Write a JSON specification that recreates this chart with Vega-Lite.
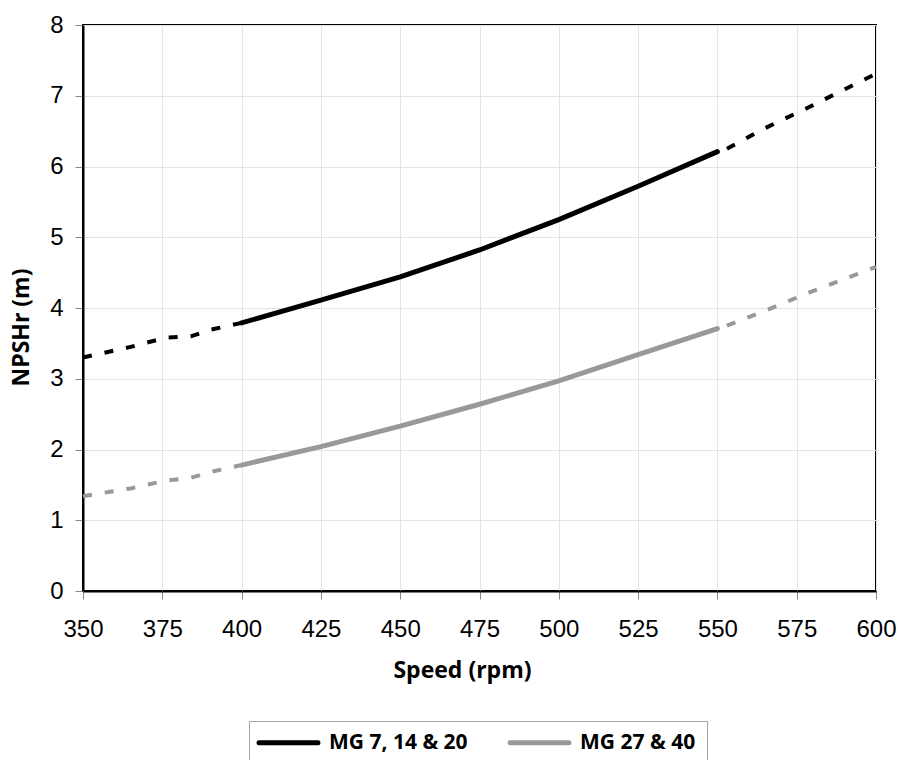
{
  "$schema": "https://vega.github.io/schema/vega-lite/v6.json",
  "width": 793,
  "height": 566,
  "autosize": {"type": "none"},
  "padding": {"left": 83, "top": 25, "right": 23, "bottom": 169},
  "background": "white",
  "config": {
    "view": {"stroke": "#000000", "strokeWidth": 2},
    "axis": {
      "labelFont": "Liberation Sans",
      "labelFontSize": 24,
      "labelColor": "#000000",
      "titleFont": "Open Sans",
      "titleFontWeight": "bold",
      "titleFontSize": 23,
      "titleColor": "#000000",
      "domainColor": "#000000",
      "domainWidth": 2,
      "tickColor": "#888888",
      "tickSize": 8,
      "tickWidth": 1,
      "gridColor": "#e4e4e4",
      "gridWidth": 1
    }
  },
  "data": {
    "values": [
      {"series": "MG 7, 14 & 20", "seg": "low", "style": "dashed", "rpm": 350, "npsh": 3.30},
      {"series": "MG 7, 14 & 20", "seg": "low", "style": "dashed", "rpm": 365, "npsh": 3.45},
      {"series": "MG 7, 14 & 20", "seg": "low", "style": "dashed", "rpm": 376, "npsh": 3.58},
      {"series": "MG 7, 14 & 20", "seg": "low", "style": "dashed", "rpm": 384, "npsh": 3.60},
      {"series": "MG 7, 14 & 20", "seg": "low", "style": "dashed", "rpm": 390, "npsh": 3.69},
      {"series": "MG 7, 14 & 20", "seg": "low", "style": "dashed", "rpm": 400, "npsh": 3.79},
      {"series": "MG 7, 14 & 20", "seg": "fit", "style": "solid", "rpm": 400, "npsh": 3.79},
      {"series": "MG 7, 14 & 20", "seg": "fit", "style": "solid", "rpm": 425, "npsh": 4.11},
      {"series": "MG 7, 14 & 20", "seg": "fit", "style": "solid", "rpm": 450, "npsh": 4.44},
      {"series": "MG 7, 14 & 20", "seg": "fit", "style": "solid", "rpm": 475, "npsh": 4.82},
      {"series": "MG 7, 14 & 20", "seg": "fit", "style": "solid", "rpm": 500, "npsh": 5.25},
      {"series": "MG 7, 14 & 20", "seg": "fit", "style": "solid", "rpm": 525, "npsh": 5.72},
      {"series": "MG 7, 14 & 20", "seg": "fit", "style": "solid", "rpm": 550, "npsh": 6.21},
      {"series": "MG 7, 14 & 20", "seg": "high", "style": "dashed", "rpm": 553, "npsh": 6.25},
      {"series": "MG 7, 14 & 20", "seg": "high", "style": "dashed", "rpm": 564, "npsh": 6.52},
      {"series": "MG 7, 14 & 20", "seg": "high", "style": "dashed", "rpm": 578, "npsh": 6.82},
      {"series": "MG 7, 14 & 20", "seg": "high", "style": "dashed", "rpm": 591, "npsh": 7.11},
      {"series": "MG 7, 14 & 20", "seg": "high", "style": "dashed", "rpm": 600, "npsh": 7.31},
      {"series": "MG 27 & 40", "seg": "low", "style": "dashed", "rpm": 350, "npsh": 1.34},
      {"series": "MG 27 & 40", "seg": "low", "style": "dashed", "rpm": 365, "npsh": 1.45},
      {"series": "MG 27 & 40", "seg": "low", "style": "dashed", "rpm": 376, "npsh": 1.56},
      {"series": "MG 27 & 40", "seg": "low", "style": "dashed", "rpm": 384, "npsh": 1.60},
      {"series": "MG 27 & 40", "seg": "low", "style": "dashed", "rpm": 390, "npsh": 1.68},
      {"series": "MG 27 & 40", "seg": "low", "style": "dashed", "rpm": 400, "npsh": 1.78},
      {"series": "MG 27 & 40", "seg": "fit", "style": "solid", "rpm": 400, "npsh": 1.78},
      {"series": "MG 27 & 40", "seg": "fit", "style": "solid", "rpm": 425, "npsh": 2.04},
      {"series": "MG 27 & 40", "seg": "fit", "style": "solid", "rpm": 450, "npsh": 2.33},
      {"series": "MG 27 & 40", "seg": "fit", "style": "solid", "rpm": 475, "npsh": 2.64},
      {"series": "MG 27 & 40", "seg": "fit", "style": "solid", "rpm": 500, "npsh": 2.97},
      {"series": "MG 27 & 40", "seg": "fit", "style": "solid", "rpm": 525, "npsh": 3.34},
      {"series": "MG 27 & 40", "seg": "fit", "style": "solid", "rpm": 550, "npsh": 3.71},
      {"series": "MG 27 & 40", "seg": "high", "style": "dashed", "rpm": 553, "npsh": 3.75},
      {"series": "MG 27 & 40", "seg": "high", "style": "dashed", "rpm": 565, "npsh": 3.96},
      {"series": "MG 27 & 40", "seg": "high", "style": "dashed", "rpm": 579, "npsh": 4.22},
      {"series": "MG 27 & 40", "seg": "high", "style": "dashed", "rpm": 593, "npsh": 4.46},
      {"series": "MG 27 & 40", "seg": "high", "style": "dashed", "rpm": 600, "npsh": 4.58}
    ]
  },
  "encoding": {
    "x": {
      "field": "rpm", "type": "quantitative",
      "scale": {"domain": [350, 600], "nice": false, "zero": false},
      "axis": {
        "title": "Speed (rpm)",
        "values": [350, 375, 400, 425, 450, 475, 500, 525, 550, 575, 600],
        "labelPadding": 18,
        "labelFlush": false,
        "titleX": 379, "titleY": 86, "titleBaseline": "alphabetic", "titleAlign": "center"
      }
    },
    "y": {
      "field": "npsh", "type": "quantitative",
      "scale": {"domain": [0, 8], "nice": false},
      "axis": {
        "title": "NPSHr (m)",
        "values": [0, 1, 2, 3, 4, 5, 6, 7, 8],
        "labelPadding": 12,
        "labelFlush": false,
        "titleX": -50, "titleY": 302, "titleAngle": -90, "titleAlign": "center", "titleBaseline": "bottom"
      }
    },
    "color": {
      "field": "series", "type": "nominal",
      "scale": {"domain": ["MG 7, 14 & 20", "MG 27 & 40"], "range": ["#000000", "#999999"]},
      "legend": {
        "title": null,
        "orient": "none",
        "legendX": 166,
        "legendY": 696,
        "direction": "horizontal",
        "strokeColor": "#a6a6a6",
        "fillColor": "#ffffff",
        "padding": 11,
        "symbolType": "M-5,0L5,0",
        "symbolSize": 139,
        "symbolStrokeWidth": 5,
        "symbolDash": [1, 0],
        "symbolOffset": 18,
        "labelFont": "Open Sans",
        "labelFontWeight": "bold",
        "labelFontSize": 21,
        "labelColor": "#000000",
        "labelOffset": 30,
        "columnPadding": 32,
        "encode": {"symbols": {"update": {"strokeCap": {"value": "round"}}}}
      }
    }
  },
  "layer": [
    {
      "transform": [{"filter": "datum.style === 'solid'"}],
      "mark": {"type": "line", "strokeWidth": 5, "strokeCap": "round"},
      "encoding": {"detail": {"field": "seg"}}
    },
    {
      "transform": [{"filter": "datum.style === 'dashed'"}],
      "mark": {"type": "line", "strokeWidth": 4, "strokeDash": [9, 13]},
      "encoding": {"detail": {"field": "seg"}}
    }
  ]
}
